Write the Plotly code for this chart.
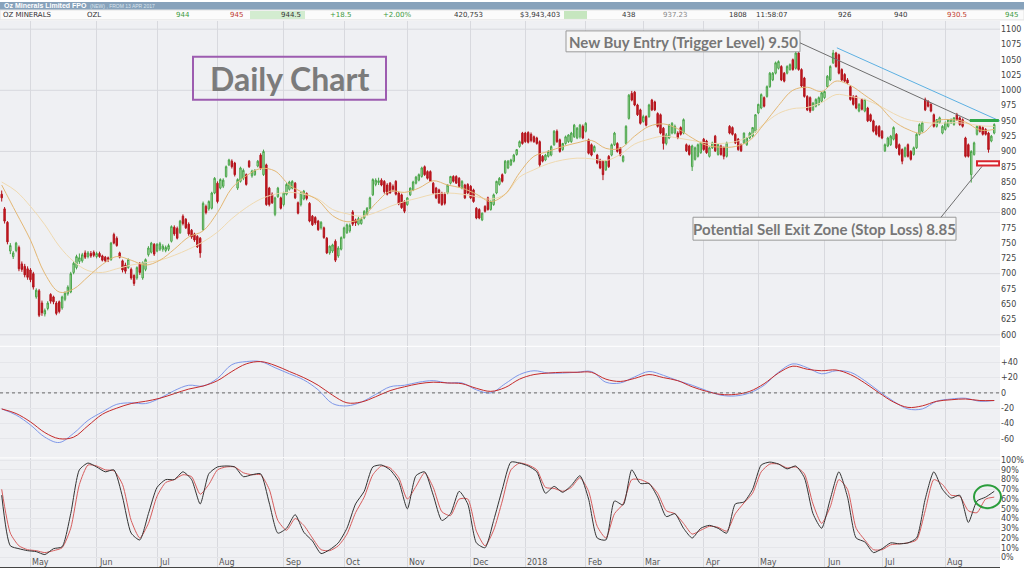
import pandas as pd
import plotly.graph_objects as go
from plotly.subplots import make_subplots

# OZL daily prices (cents), one entry per trading day from 12 Apr 2017
open_ = [
    830, 806, 784, 737, 728, 738, 743, 716, 712, 708,
    706, 700, 662, 672, 652, 634, 643, 666, 662, 652,
    654, 644, 658, 667, 670, 702, 710, 720, 721, 734,
    728, 733, 735, 728, 733, 729, 727, 726, 723, 764,
    758, 734, 721, 714, 710, 707, 697, 693, 716, 693,
    707, 731, 735, 748, 737, 740, 740, 738, 740, 753,
    776, 774, 767, 794, 789, 781, 771, 765, 761, 758,
    772, 810, 806, 807, 832, 848, 840, 843, 859, 878,
    884, 881, 840, 851, 856, 862, 884, 860, 862, 876,
    894, 862, 878, 840, 830, 797, 826, 824, 813, 830,
    838, 840, 848, 816, 813, 822, 831, 815, 794, 792,
    786, 775, 775, 758, 734, 737, 753, 729, 740, 759,
    767, 770, 801, 788, 781, 782, 791, 797, 807, 829,
    846, 849, 853, 851, 845, 848, 843, 851, 832, 829,
    818, 813, 829, 837, 848, 853, 859, 875, 867, 867,
    848, 840, 837, 832, 830, 832, 848, 859, 859, 856,
    840, 845, 846, 843, 837, 807, 805, 788, 810, 824,
    805, 813, 832, 846, 862, 865, 873, 878, 884, 895,
    908, 930, 930, 931, 928, 924, 922, 916, 892, 886,
    892, 894, 911, 933, 919, 903, 913, 916, 916, 924,
    922, 924, 941, 933, 919, 911, 900, 894, 886, 884,
    870, 892, 894, 911, 913, 905, 884, 913, 954, 995,
    997, 976, 968, 949, 957, 957, 984, 981, 962, 960,
    938, 913, 922, 930, 930, 930, 939, 930, 911, 909,
    875, 887, 892, 898, 920, 917, 892, 906, 925, 895,
    909, 906, 892, 941, 939, 928, 920, 911, 914, 911,
    922, 925, 933, 963, 971, 988, 990, 1006, 1017, 1028,
    1036, 1039, 1028, 1028, 1034, 1050, 1036, 1061, 1034, 1020,
    990, 988, 968, 974, 977, 982, 988, 1006, 1017, 1045,
    1061, 1058, 1034, 1026, 1017, 1006, 990, 990, 966, 985,
    966, 971, 960, 950, 941, 941, 933, 901, 909, 911,
    920, 928, 911, 903, 892, 911, 900, 895, 906, 928,
    933, 985, 982, 977, 960, 941, 947, 930, 936, 941,
    947, 944, 960, 955, 952, 922, 911, 862, 895, 928,
    941, 939, 936, 930, 917, 930,
]
high = [
    836, 809, 786, 750, 737, 752, 746, 720, 716, 712,
    709, 703, 676, 675, 656, 643, 655, 668, 664, 655,
    656, 664, 671, 681, 703, 720, 731, 733, 734, 738,
    737, 737, 738, 736, 736, 731, 729, 728, 752, 767,
    761, 736, 723, 718, 725, 710, 699, 712, 719, 720,
    725, 745, 752, 750, 750, 752, 748, 746, 749, 779,
    779, 777, 788, 797, 791, 784, 773, 767, 763, 760,
    818, 813, 820, 834, 858, 851, 856, 856, 877, 888,
    887, 883, 856, 875, 872, 864, 886, 870, 871, 886,
    897, 903, 880, 842, 833, 826, 842, 826, 834, 848,
    852, 853, 850, 818, 834, 837, 833, 817, 796, 794,
    788, 786, 777, 760, 746, 749, 756, 745, 761, 777,
    782, 782, 804, 790, 793, 792, 804, 809, 826, 856,
    856, 857, 856, 853, 848, 850, 846, 853, 834, 831,
    820, 825, 841, 852, 860, 864, 875, 877, 869, 869,
    850, 842, 839, 834, 833, 846, 860, 861, 861, 858,
    853, 847, 848, 845, 839, 809, 807, 800, 812, 826,
    820, 831, 852, 858, 864, 886, 886, 888, 896, 904,
    918, 932, 932, 933, 931, 926, 924, 918, 894, 896,
    902, 910, 935, 936, 921, 914, 926, 928, 932, 945,
    940, 945, 944, 948, 921, 913, 910, 896, 888, 886,
    886, 894, 913, 932, 915, 907, 894, 943, 994, 999,
    999, 978, 970, 960, 959, 978, 986, 983, 964, 962,
    940, 930, 945, 948, 944, 933, 941, 954, 913, 911,
    911, 908, 913, 916, 922, 919, 908, 916, 927, 913,
    911, 908, 916, 943, 941, 930, 922, 913, 931, 923,
    932, 940, 961, 978, 995, 990, 1008, 1030, 1030, 1047,
    1049, 1041, 1030, 1041, 1044, 1052, 1065, 1063, 1036, 1022,
    992, 990, 981, 987, 990, 997, 1000, 1025, 1041, 1066,
    1063, 1060, 1036, 1028, 1020, 1008, 992, 992, 979, 987,
    986, 973, 962, 952, 943, 943, 935, 913, 924, 927,
    941, 930, 913, 905, 908, 913, 902, 908, 930, 946,
    949, 988, 984, 979, 962, 953, 957, 943, 949, 953,
    954, 956, 963, 957, 954, 924, 913, 902, 916, 943,
    943, 941, 938, 932, 927, 946,
]
low = [
    818, 782, 748, 732, 724, 735, 704, 703, 694, 690,
    686, 674, 659, 629, 631, 630, 640, 651, 650, 632,
    635, 641, 655, 664, 668, 699, 707, 716, 718, 724,
    725, 726, 727, 725, 726, 720, 719, 719, 721, 748,
    744, 725, 702, 700, 708, 690, 680, 690, 698, 690,
    704, 728, 733, 729, 735, 737, 736, 735, 737, 751,
    762, 756, 765, 779, 773, 762, 757, 752, 742, 726,
    770, 797, 803, 805, 830, 815, 838, 840, 857, 876,
    872, 859, 837, 849, 853, 844, 873, 857, 860, 874,
    870, 860, 811, 810, 814, 794, 824, 805, 810, 828,
    836, 838, 822, 797, 810, 820, 820, 784, 778, 780,
    770, 772, 757, 732, 731, 734, 719, 726, 738, 757,
    765, 767, 778, 778, 779, 780, 789, 795, 805, 827,
    843, 845, 843, 831, 828, 831, 834, 828, 812, 806,
    799, 811, 827, 835, 846, 851, 857, 860, 854, 850,
    830, 822, 814, 811, 812, 830, 846, 849, 847, 841,
    838, 822, 830, 822, 816, 789, 789, 786, 800, 803,
    803, 811, 830, 844, 849, 863, 871, 876, 882, 893,
    906, 911, 914, 913, 915, 914, 911, 875, 882, 884,
    890, 892, 909, 914, 898, 901, 911, 914, 914, 922,
    920, 921, 920, 931, 895, 892, 898, 879, 871, 853,
    868, 873, 892, 909, 898, 892, 882, 911, 952, 982,
    974, 958, 944, 947, 941, 955, 966, 966, 939, 928,
    903, 910, 920, 928, 928, 920, 926, 928, 899, 893,
    868, 885, 890, 896, 901, 896, 890, 904, 899, 893,
    893, 887, 890, 928, 926, 912, 901, 899, 912, 909,
    920, 923, 931, 961, 969, 972, 988, 1004, 1015, 1026,
    1034, 1015, 1013, 1026, 1032, 1032, 1034, 1032, 1005, 988,
    966, 963, 966, 972, 975, 980, 986, 1004, 1015, 1043,
    1037, 1026, 1015, 1013, 1010, 983, 975, 969, 964, 967,
    964, 948, 948, 931, 926, 923, 920, 899, 907, 909,
    918, 904, 893, 879, 890, 890, 885, 893, 904, 926,
    931, 966, 972, 964, 939, 939, 945, 928, 934, 939,
    945, 942, 950, 942, 939, 890, 890, 849, 893, 926,
    931, 926, 926, 898, 915, 928,
]
close = [
    824, 786, 752, 746, 734, 750, 708, 707, 698, 694,
    690, 678, 673, 632, 636, 640, 652, 655, 654, 635,
    638, 662, 668, 678, 700, 717, 728, 726, 731, 727,
    734, 729, 730, 733, 728, 722, 721, 724, 750, 750,
    746, 727, 706, 704, 723, 693, 684, 710, 702, 718,
    723, 742, 750, 732, 748, 749, 745, 743, 746, 777,
    765, 758, 786, 782, 775, 765, 760, 755, 744, 734,
    815, 800, 818, 832, 856, 818, 854, 853, 875, 886,
    875, 862, 854, 873, 869, 846, 875, 868, 869, 884,
    873, 900, 813, 813, 816, 824, 840, 807, 832, 846,
    850, 851, 824, 799, 832, 835, 823, 786, 780, 783,
    772, 784, 759, 734, 745, 747, 722, 742, 759, 775,
    780, 779, 781, 783, 790, 789, 802, 807, 824, 854,
    853, 852, 845, 834, 830, 832, 838, 830, 814, 808,
    802, 824, 840, 850, 858, 862, 873, 862, 856, 851,
    832, 824, 816, 813, 815, 845, 859, 851, 848, 843,
    851, 824, 832, 824, 818, 791, 791, 799, 802, 805,
    818, 829, 851, 856, 851, 884, 884, 886, 894, 903,
    916, 913, 916, 915, 918, 916, 913, 878, 884, 894,
    900, 908, 933, 916, 900, 913, 924, 927, 930, 943,
    938, 943, 922, 946, 897, 894, 908, 881, 873, 862,
    884, 875, 911, 930, 900, 894, 892, 941, 992, 984,
    976, 960, 946, 957, 943, 976, 968, 968, 941, 930,
    913, 927, 943, 946, 941, 922, 928, 952, 901, 895,
    909, 906, 911, 914, 903, 898, 906, 914, 901, 911,
    895, 892, 914, 930, 928, 914, 903, 901, 930, 922,
    930, 939, 960, 977, 993, 974, 1006, 1028, 1028, 1045,
    1047, 1017, 1015, 1039, 1042, 1034, 1061, 1034, 1007, 990,
    968, 966, 979, 985, 988, 996, 998, 1023, 1039, 1061,
    1039, 1028, 1017, 1015, 1012, 985, 977, 971, 977, 969,
    985, 950, 950, 933, 928, 925, 922, 911, 922, 925,
    939, 906, 895, 884, 906, 892, 887, 906, 928, 944,
    947, 968, 974, 966, 941, 952, 955, 941, 947, 952,
    952, 955, 952, 944, 941, 892, 892, 900, 914, 941,
    933, 928, 928, 903, 925, 944,
]

# moving averages, read every 5 trading days
ma_fast = [
    845, 800, 755, 700, 670, 675, 695, 715, 728, 722,
    714, 722, 740, 760, 770, 800, 840, 860, 872, 868,
    845, 832, 820, 795, 785, 790, 815, 835, 833, 840,
    852, 845, 840, 830, 818, 830, 865, 892, 900, 908,
    914, 918, 905, 905, 925, 941, 945, 937, 922, 910,
    907, 908, 918, 945, 975, 1000, 1005, 998, 1015, 1008,
    992, 975, 950, 936, 930, 950, 952, 948, 935, 936,
]
ma_slow = [
    850, 835, 810, 780, 745, 720, 705, 702, 708, 714,
    718, 722, 730, 740, 752, 768, 790, 808, 822, 830,
    833, 830, 822, 805, 798, 794, 800, 810, 818, 824,
    830, 832, 830, 826, 822, 830, 858, 870, 880, 886,
    889, 888, 885, 895, 912, 920, 925, 922, 918, 914,
    913, 916, 925, 945, 962, 970, 972, 980, 993, 990,
    985, 975, 962, 952, 948, 946, 947, 946, 942, 941,
]

# MACD panel, read every 5 trading days
macd_line = [
    -21, -29, -42, -58, -65, -53, -36, -25, -15, -13,
    -14, -7, 3, 10, 9, 19, 37, 41, 41, 33,
    25, 17, 4, -14, -17, -12, -2, 8, 10, 14,
    16, 13, 13, 4, 0, 12, 24, 29, 26, 26,
    27, 28, 14, 13, 21, 28, 23, 16, 10, 3,
    -3, -4, 0, 10, 27, 38, 33, 25, 29, 27,
    16, 2, -11, -21, -21, -11, -8, -7, -11, -10,
]
macd_signal = [
    -21, -27, -38, -52, -60, -58, -43, -28, -20, -14,
    -11, -7, -1, 5, 9, 16, 28, 38, 41, 36,
    28, 20, 10, -3, -13, -12, -5, 3, 8, 12,
    14, 13, 12, 6, 2, 7, 18, 24, 26, 27,
    27, 27, 18, 15, 19, 24, 20, 16, 8, 2,
    -2, -2, 2, 12, 26, 35, 31, 29, 30, 24,
    13, 0, -12, -19, -17, -11, -9, -8, -10, -10,
]

# stochastic panel (%), read every 3 trading days
stoch_k = [
    64, 12, 9, 7, 6, 3, 9, 11, 45, 90,
    97, 93, 88, 90, 62, 25, 18, 45, 72, 80,
    80, 88, 80, 55, 86, 93, 94, 93, 83, 85,
    86, 56, 25, 30, 44, 26, 17, 4, 8, 15,
    30, 55, 68, 93, 95, 90, 78, 50, 84, 88,
    64, 38, 45, 68, 55, 15, 10, 38, 70, 98,
    97, 94, 88, 66, 73, 67, 74, 84, 60, 20,
    18, 58, 54, 90, 76, 76, 62, 42, 45, 30,
    20, 30, 33, 30, 25, 55, 57, 70, 95, 98,
    96, 91, 94, 82, 45, 30, 60, 88, 62, 20,
    16, 5, 9, 15, 14, 15, 20, 60, 88, 70,
    61, 64, 36, 58, 62, 68,
]
stoch_d = [
    70, 25, 12, 8, 7, 5, 7, 10, 30, 75,
    95, 94, 90, 89, 75, 38, 20, 35, 63, 77,
    80, 85, 83, 65, 75, 90, 93, 93, 87, 85,
    85, 70, 38, 28, 40, 33, 20, 8, 7, 12,
    24, 46, 62, 85, 94, 92, 82, 60, 73, 87,
    72, 47, 43, 60, 60, 27, 12, 28, 58, 90,
    97, 95, 90, 72, 71, 68, 72, 82, 68, 32,
    20, 45, 55, 80, 80, 76, 66, 48, 45, 35,
    24, 28, 32, 31, 27, 45, 56, 66, 88, 96,
    96, 92, 93, 86, 55, 35, 52, 80, 70, 30,
    18, 8, 8, 13, 14, 15, 18, 48, 80, 75,
    64, 63, 48, 46, 60, 62,
]

month_labels = ["May", "Jun", "Jul", "Aug", "Sep", "Oct", "Nov", "Dec",
                "2018", "Feb", "Mar", "Apr", "May", "Jun", "Jul", "Aug"]
asx_holidays = ["2017-04-14", "2017-04-17", "2017-04-25", "2017-06-12",
                "2017-12-25", "2017-12-26", "2018-01-01", "2018-01-26",
                "2018-03-30", "2018-04-02", "2018-04-25", "2018-06-11"]

trigger_level = 950   # 9.50
stop_loss = 885       # 8.85

# quote strip at the top: (text, right edge px, colour)
quote_cells = [
    ("944", 192, "#3c9a3c"), ("945", 245, "#c0392b"), ("944.5", 303, "#333"),
    ("+18.5", 353, "#3c9a3c"), ("+2.00%", 413, "#3c9a3c"), ("420,753", 485, "#333"),
    ("$3,943,403", 562, "#333"), ("438", 637, "#333"), ("937.23", 690, "#888"),
    ("1808", 749, "#333"), ("11:58:07", 789, "#333"), ("926", 854, "#333"),
    ("940", 909, "#333"), ("930.5", 969, "#c0392b"), ("945", 1020, "#3c9a3c"),
]

days = pd.bdate_range("2017-04-12", "2018-08-24")
days = days[~days.isin(pd.to_datetime(asx_holidays))]
idx = list(range(len(close)))
month_starts = [i for i in range(1, len(days)) if days[i].month != days[i - 1].month]
month_starts = month_starts[:len(month_labels)]

W, H = 1024, 568
PLOT_R = 1000 / W


def px(x):
    return x / W


def py(y):
    return 1 - y / H


fig = make_subplots(rows=3, cols=1, shared_xaxes=True, vertical_spacing=0)

fig.add_trace(go.Scatter(x=list(range(0, 5 * len(ma_slow), 5)), y=ma_slow, mode="lines",
                         line=dict(color="#efd9b0", width=1, shape="spline"),
                         hoverinfo="skip"), row=1, col=1)
fig.add_trace(go.Scatter(x=list(range(0, 5 * len(ma_fast), 5)), y=ma_fast, mode="lines",
                         line=dict(color="#e3b774", width=1, shape="spline"),
                         hoverinfo="skip"), row=1, col=1)
fig.add_trace(go.Candlestick(
    x=idx, open=open_, high=high, low=low, close=close, whiskerwidth=0,
    increasing=dict(line=dict(color="#48a448", width=1), fillcolor="#bfe3b6"),
    decreasing=dict(line=dict(color="#b3141c", width=1), fillcolor="#c8171f"),
), row=1, col=1)

macd_x = list(range(0, 5 * len(macd_line), 5))
fig.add_trace(go.Scatter(x=macd_x, y=macd_line, mode="lines",
                         line=dict(color="#7f97e8", width=1, shape="spline")), row=2, col=1)
fig.add_trace(go.Scatter(x=macd_x, y=macd_signal, mode="lines",
                         line=dict(color="#c42a2a", width=1, shape="spline")), row=2, col=1)

stoch_x = list(range(0, 3 * len(stoch_k), 3))
fig.add_trace(go.Scatter(x=stoch_x, y=stoch_d, mode="lines",
                         line=dict(color="#d65c5c", width=1, shape="spline", smoothing=0.6)),
              row=3, col=1)
fig.add_trace(go.Scatter(x=stoch_x, y=stoch_k, mode="lines",
                         line=dict(color="#333333", width=1, shape="spline", smoothing=0.6)),
              row=3, col=1)

xcommon = dict(domain=[0, PLOT_R], range=[-0.59, 347], tickmode="array",
               tickvals=month_starts, showgrid=True, showticklabels=False,
               gridcolor="#d8d9de", zeroline=False, ticks="")
fig.update_layout(
    width=W, height=H, margin=dict(l=0, r=0, t=0, b=0),
    paper_bgcolor="white", plot_bgcolor="#eff0f3", showlegend=False,
    font=dict(family="DejaVu Sans", size=8, color="#444"),
    xaxis=dict(xcommon, rangeslider=dict(visible=False)),
    xaxis2=dict(xcommon),
    xaxis3=dict(xcommon, showline=True, linecolor="#444", linewidth=1),
    yaxis=dict(domain=[py(345), py(19)], range=[582, 1113.5], side="right",
               tickvals=list(range(600, 1101, 25)), showgrid=False,
               zeroline=False, ticks="", tickfont=dict(size=8, color="#444")),
    yaxis2=dict(domain=[py(457), py(346)], range=[-84.5, 60.4], side="right",
                tickvals=[40, 20, 0, -20, -40, -60],
                ticktext=["+40", "+20", "0", "-20", "-40", "-60"],
                showgrid=True, gridcolor="#e5e6ea", zeroline=False, ticks="",
                tickfont=dict(size=8, color="#444")),
    yaxis3=dict(domain=[py(567), py(458)], range=[-9.8, 101.8], side="right",
                tickvals=list(range(0, 101, 10)),
                ticktext=[f"{v}%" for v in range(0, 101, 10)],
                ticklabeloverflow="allow",
                showgrid=True, gridcolor="#e5e6ea", zeroline=False, ticks="",
                tickfont=dict(size=8, color="#444")),
)

shapes = []
# horizontal grid of price panel (every 100)
for lvl in range(600, 1101, 100):
    shapes.append(dict(type="line", xref="paper", yref="y", x0=0, x1=PLOT_R,
                       y0=lvl, y1=lvl, line=dict(color="#d8d9de", width=1), layer="below"))
# MACD zero line
shapes.append(dict(type="line", xref="paper", yref="y2", x0=0, x1=PLOT_R, y0=0, y1=0,
                   line=dict(color="#666", width=1, dash="dot")))

# header strip
shapes.append(dict(type="rect", xref="paper", yref="paper", x0=0, x1=1, y0=py(8), y1=1,
                   fillcolor="#87a2bb", line=dict(width=0)))
shapes.append(dict(type="rect", xref="paper", yref="paper", x0=0, x1=1, y0=py(18), y1=py(8),
                   fillcolor="#fbfbfb", line=dict(color="#e2e2e2", width=1)))
shapes.append(dict(type="rect", xref="paper", yref="paper", x0=px(250), x1=px(305),
                   y0=py(17), y1=py(9), fillcolor="#d3ecd0", line=dict(width=0)))
shapes.append(dict(type="rect", xref="paper", yref="paper", x0=px(564), x1=px(587),
                   y0=py(17), y1=py(9), fillcolor="#c6e6bf", line=dict(width=0)))

# "Daily Chart" box
shapes.append(dict(type="rect", xref="paper", yref="paper", x0=px(193), x1=px(386),
                   y0=py(98), y1=py(55), line=dict(color="#9d5cb0", width=2)))
# buy entry callout
shapes.append(dict(type="rect", xref="paper", yref="paper", x0=px(566), x1=px(800),
                   y0=py(50), y1=py(29), fillcolor="#f6f6f6", line=dict(color="#9a9a9a", width=1)))
shapes.append(dict(type="line", xref="paper", yref="paper", x0=px(800), y0=py(41),
                   x1=px(970), y1=py(119), line=dict(color="#6e6e6e", width=1)))
# stop loss callout
shapes.append(dict(type="rect", xref="paper", yref="paper", x0=px(693), x1=px(956),
                   y0=py(239), y1=py(216), fillcolor="#f6f6f6", line=dict(color="#9a9a9a", width=1)))
shapes.append(dict(type="line", xref="paper", yref="paper", x0=px(941), y0=py(216),
                   x1=px(982), y1=py(165), line=dict(color="#6e6e6e", width=1)))
# downtrend line from the June high
shapes.append(dict(type="line", xref="x", yref="y", x0=290.3, y0=1069.5, x1=347, y1=949.7,
                   line=dict(color="#5cb0e2", width=1)))
# trigger bar and stop loss box
shapes.append(dict(type="rect", xref="x", yref="y", x0=336.5, x1=346.6,
                   y0=trigger_level - 2, y1=trigger_level + 3,
                   fillcolor="#2fa84a", line=dict(width=0)))
shapes.append(dict(type="rect", xref="x", yref="y", x0=339, x1=346.7,
                   y0=stop_loss - 8, y1=stop_loss - 1,
                   fillcolor="white", line=dict(color="#d9252e", width=2)))
# stochastic circle
shapes.append(dict(type="circle", xref="paper", yref="paper", x0=px(974), x1=px(1001),
                   y0=py(508), y1=py(485), line=dict(color="#2a9d3c", width=2)))

annotations = [
    dict(text="<b>Oz Minerals Limited FPO</b>", x=px(2), y=py(4), xref="paper", yref="paper",
         xanchor="left", yanchor="middle", showarrow=False,
         font=dict(size=7, color="white", family="Liberation Sans")),
    dict(text="(NEW) , FROM 13 APR 2017", x=px(88), y=py(4), xref="paper", yref="paper",
         xanchor="left", yanchor="middle", showarrow=False,
         font=dict(size=5, color="#dbe5ee", family="Liberation Sans")),
    dict(text="OZ MINERALS", x=px(1), y=py(13), xref="paper", yref="paper",
         xanchor="left", yanchor="middle", showarrow=False,
         font=dict(size=7, color="#333", family="DejaVu Sans")),
    dict(text="OZL", x=px(85), y=py(13), xref="paper", yref="paper",
         xanchor="left", yanchor="middle", showarrow=False,
         font=dict(size=7, color="#333", family="DejaVu Sans")),
    dict(text="<b>Daily Chart</b>", x=px(289.5), y=py(77), xref="paper", yref="paper",
         xanchor="center", yanchor="middle", showarrow=False,
         font=dict(size=32, color="#7b7b7b", family="Lato")),
    dict(text="<b>New Buy Entry (Trigger Level) 9.50</b>", x=px(683), y=py(40), xref="paper",
         yref="paper", xanchor="center", yanchor="middle", showarrow=False,
         font=dict(size=15, color="#777", family="Lato")),
    dict(text="<b>Potential Sell Exit Zone (Stop Loss) 8.85</b>", x=px(824.5), y=py(228),
         xref="paper", yref="paper", xanchor="center", yanchor="middle", showarrow=False,
         font=dict(size=15, color="#777", family="Lato")),
]
for text, right, color in quote_cells:
    annotations.append(dict(text=text, x=px(right), y=py(13), xref="paper", yref="paper",
                            xanchor="right", yanchor="middle", showarrow=False,
                            font=dict(size=7, color=color, family="DejaVu Sans")))
# month labels along the bottom, just right of each month's grid line
for pos, label in zip(month_starts, month_labels):
    annotations.append(dict(text=label, x=pos, xref="x3", y=py(562), yref="paper",
                            xanchor="left", yanchor="middle", xshift=0, showarrow=False,
                            font=dict(size=8, color="#555", family="DejaVu Sans")))

fig.update_layout(shapes=shapes, annotations=annotations)
fig.write_html("out.html", config={"displayModeBar": False},
               post_script="document.body.style.margin='0';")
